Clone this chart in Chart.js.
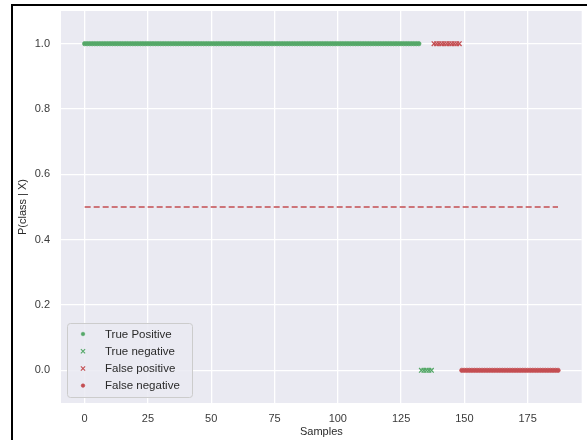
<!DOCTYPE html>
<html>
<head>
<meta charset="utf-8">
<script src="https://cdn.jsdelivr.net/npm/chart.js@4/dist/chart.umd.min.js"></script>
<style>
  html, body { margin: 0; padding: 0; background: #fff; }
  #wrap { position: relative; width: 587px; height: 440px; overflow: hidden; }
  #frame {
    position: absolute; left: 11px; top: 4px; width: 600px; height: 460px;
    border-left: 2px solid #000; border-top: 2px solid #000; pointer-events: none;
  }
</style>
</head>
<body>
<div id="wrap">
  <canvas id="probChart" width="587" height="440"></canvas>
  <div id="frame"></div>
</div>
<script>
/*******************************************************
 * DATA
 *******************************************************/
const xTicks = [0, 25, 50, 75, 100, 125, 150, 175];
const yTicks = [0.0, 0.2, 0.4, 0.6, 0.8, 1.0];

// one entry per outcome class: sample index span and predicted P(class | X)
const classNames = ["True Positive", "True negative", "False positive", "False negative"];
const classFirst = [0, 133, 138, 149];
const classLast  = [132, 137, 148, 187];
const classProb  = [1.0, 0.0, 1.0, 0.0];
const classColor = ["#55A868", "#55A868", "#C44E52", "#C44E52"];
const classStyle = ["circle", "crossRot", "crossRot", "circle"];

const threshold = 0.5;
const thresholdSpan = [0, 187];

/*******************************************************
 * BUILD DATASETS
 *******************************************************/
function samplePoints(k) {
  const pts = [];
  for (let i = classFirst[k]; i <= classLast[k]; i++) {
    pts.push({ x: i, y: classProb[k] });
  }
  return pts;
}

const datasets = classNames.map((name, k) => {
  const isDot = classStyle[k] === "circle";
  return {
    label: name,
    data: samplePoints(k),
    showLine: false,
    pointStyle: classStyle[k],
    pointRadius: isDot ? 2.2 : 3.2,
    pointBorderWidth: isDot ? 0.7 : 1.3,
    pointBackgroundColor: classColor[k],
    pointBorderColor: classColor[k],
    backgroundColor: classColor[k],
    borderColor: classColor[k]
  };
});

datasets.push({
  label: "threshold",
  data: thresholdSpan.map(x => ({ x: x, y: threshold })),
  showLine: true,
  pointRadius: 0,
  borderColor: "#C44E52",
  borderWidth: 1.5,
  borderDash: [6, 3]
});

/*******************************************************
 * PLUGINS: plot background + inset legend
 *******************************************************/
const plotBackground = {
  id: "plotBackground",
  beforeDraw(chart) {
    const { ctx, chartArea: a } = chart;
    ctx.save();
    ctx.fillStyle = "#EAEAF2";
    ctx.fillRect(a.left, a.top, a.right - a.left, a.bottom - a.top);
    ctx.restore();
  }
};

const insetLegend = {
  id: "insetLegend",
  afterDraw(chart) {
    const ctx = chart.ctx;
    const box = { x: 67, y: 323, w: 125, h: 74 };
    ctx.save();
    ctx.fillStyle = "rgba(234,234,242,0.85)";
    ctx.strokeStyle = "#CCCCCC";
    ctx.lineWidth = 1;
    ctx.beginPath();
    ctx.roundRect(box.x + 0.5, box.y + 0.5, box.w, box.h, 3);
    ctx.fill();
    ctx.stroke();

    ctx.font = "11.5px 'Liberation Sans', Arial, sans-serif";
    ctx.textBaseline = "middle";
    classNames.forEach((name, k) => {
      const y = 334 + k * 17.2;
      const isDot = classStyle[k] === "circle";
      ctx.fillStyle = classColor[k];
      ctx.strokeStyle = classColor[k];
      ctx.lineWidth = isDot ? 0.6 : 1.1;
      Chart.helpers.drawPoint(ctx, {
        pointStyle: classStyle[k],
        radius: isDot ? 1.8 : 3,
        borderWidth: ctx.lineWidth
      }, 83, y);
      ctx.fillStyle = "#2a2a2a";
      ctx.fillText(name, 105, y + 0.5);
    });
    ctx.restore();
  }
};

/*******************************************************
 * CHART
 *******************************************************/
const tickFont = { family: "'Liberation Sans', Arial, sans-serif", size: 11 };

new Chart(document.getElementById("probChart").getContext("2d"), {
  type: "scatter",
  data: { datasets: datasets },
  plugins: [plotBackground, insetLegend],
  options: {
    responsive: false,
    animation: false,
    layout: { padding: { top: 11, right: 2, bottom: 0, left: 0 } },
    scales: {
      x: {
        type: "linear",
        min: -9.35,
        max: 196.35,
        afterBuildTicks: s => { s.ticks = xTicks.map(v => ({ value: v })); },
        afterFit: s => { s.height = 37; },
        grid: { color: "#FFFFFF", lineWidth: 1.3, drawTicks: false },
        border: { display: false },
        ticks: { font: tickFont, color: "#3a3a3a", padding: 9, maxRotation: 0 },
        title: {
          display: true,
          text: "Samples",
          font: tickFont,
          color: "#2a2a2a",
          padding: { top: 0, bottom: 1 }
        }
      },
      y: {
        type: "linear",
        min: -0.1,
        max: 1.1,
        afterBuildTicks: s => { s.ticks = yTicks.map(v => ({ value: v })); },
        afterFit: s => {
          s.width = 61;
          // labels sit well inside the axis, no extra room needed at the ends
          s.paddingTop = 0;
          s.paddingBottom = 0;
        },
        grid: { color: "#FFFFFF", lineWidth: 1.3, drawTicks: false },
        border: { display: false },
        ticks: {
          font: tickFont,
          color: "#3a3a3a",
          padding: 11,
          callback: v => v.toFixed(1)
        },
        title: {
          display: true,
          text: "P(class | X)",
          font: tickFont,
          color: "#2a2a2a",
          padding: { top: 16, bottom: 0 }
        }
      }
    },
    plugins: {
      legend: { display: false },
      tooltip: { enabled: false }
    }
  }
});
</script>
</body>
</html>
